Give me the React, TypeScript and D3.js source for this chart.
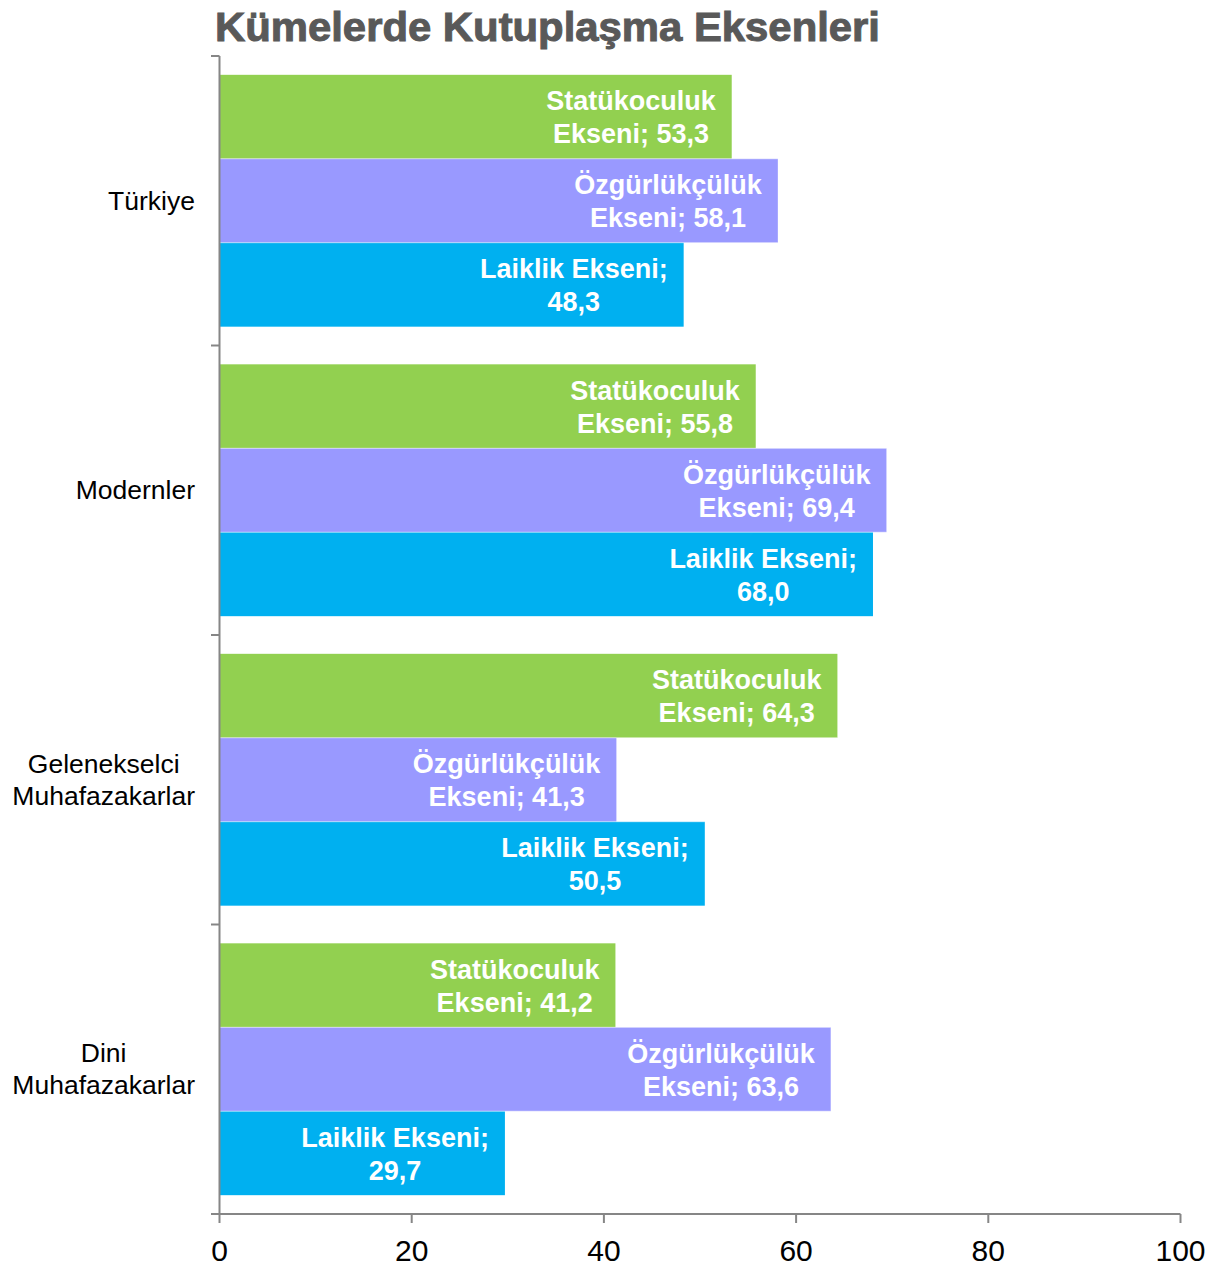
import React, { useEffect, useRef } from "react";
import * as d3 from "d3";

const categories = ["Türkiye", "Modernler", "Gelenekselci\nMuhafazakarlar", "Dini\nMuhafazakarlar"];
const seriesNames = ["Statükoculuk Eksen", "Özgürlükçülük Ekseni", "Laiklik Ekseni"];
const statukoculuk = [53.3, 55.8, 64.3, 41.2];
const ozgurlukculuk = [58.1, 69.4, 41.3, 63.6];
const laiklik = [48.3, 68.0, 50.5, 29.7];
const xTicks = [0, 20, 40, 60, 80, 100];
const labelLines1 = [["Statükoculuk", "Ekseni; "], ["Özgürlükçülük", "Ekseni; "], ["Laiklik Ekseni;", ""]];
const colors = ["#92D050", "#9999FF", "#00B0F0"];
const title = "Kümelerde Kutuplaşma Eksenleri";

const W = 1222, H = 1268;
const left = 219.5, right = 1180.5, top = 56, bottom = 1214;
const FONT = "'Liberation Sans', Arial, sans-serif";

export default function App() {
  const ref = useRef<SVGSVGElement>(null);
  useEffect(() => {
    const svg = d3.select(ref.current!);
    svg.selectAll("*").remove();
    const values = [statukoculuk, ozgurlukculuk, laiklik];
    const x = d3.scaleLinear().domain([0, 100]).range([left, right]);
    const y0 = d3.scaleBand<string>().domain(categories).range([top, bottom]);
    const bw = y0.bandwidth();
    const gap = bw * 0.13;
    const y1 = d3.scaleBand<string>().domain(seriesNames).range([gap / 2, bw - gap / 2]);

    // title
    svg.append("text").attr("x", 215).attr("y", 41).attr("fill", "#595959")
      .attr("font-family", FONT).attr("font-weight", 900)
      .attr("font-size", 41).attr("textLength", 665).attr("lengthAdjust", "spacingAndGlyphs")
      .attr("stroke", "#595959").attr("stroke-width", 1)
      .text(title);

    // bars
    categories.forEach((c, ci) => {
      seriesNames.forEach((s, si) => {
        const v = values[si][ci];
        const yt = y0(c)! + y1(s)!;
        const h = y1.bandwidth();
        svg.append("rect").attr("x", x(0)).attr("y", yt).attr("width", x(v) - x(0)).attr("height", h)
          .attr("fill", colors[si]);
      });
    });
    // separators
    categories.forEach((c, ci) => {
      seriesNames.forEach((s, si) => {
        if (si === 0) return;
        const yt = y0(c)! + y1(s)!;
        const v = Math.max(values[si - 1][ci], values[si][ci]);
        svg.append("line").attr("x1", x(0)).attr("x2", x(v)).attr("y1", yt).attr("y2", yt)
          .attr("stroke", "#ffffff").attr("stroke-opacity", 0.5).attr("stroke-width", 1);
      });
    });

    // labels
    const fmt = (v: number) => v.toFixed(1).replace(".", ",");
    categories.forEach((c, ci) => {
      seriesNames.forEach((s, si) => {
        const v = values[si][ci];
        const yc = y0(c)! + y1(s)! + y1.bandwidth() / 2;
        const lines = [labelLines1[si][0], labelLines1[si][1] + fmt(v)];
        const g = svg.append("g");
        const texts = lines.map((ln, li) =>
          g.append("text").attr("y", yc + (li - 0.5) * 33 + 10)
            .attr("fill", "#ffffff").attr("font-weight", "bold")
            .attr("font-family", FONT)
            .attr("font-size", 27).attr("text-anchor", "middle").text(ln)
        );
        const maxW = d3.max(texts, (t) => (t.node() as SVGTextElement).getComputedTextLength())!;
        const cx = x(v) - 16 - maxW / 2;
        texts.forEach((t) => t.attr("x", cx));
      });
    });

    // y axis
    svg.append("line").attr("x1", left).attr("x2", left).attr("y1", top).attr("y2", bottom)
      .attr("stroke", "#868686").attr("stroke-width", 2);
    const yTickPos = [top, ...categories.map((c) => y0(c)! + bw)];
    yTickPos.forEach((yy) => {
      svg.append("line").attr("x1", 211).attr("x2", left).attr("y1", yy).attr("y2", yy)
        .attr("stroke", "#868686").attr("stroke-width", 2);
    });
    categories.forEach((c) => {
      const lines = c.split("\n");
      const yc = y0(c)! + bw / 2;
      const texts = lines.map((ln, li) =>
        svg.append("text").attr("y", yc + (li - (lines.length - 1) / 2) * 32 + 9)
          .attr("font-family", FONT).attr("font-size", 26.5)
          .attr("fill", "#000").attr("text-anchor", "middle").text(ln)
      );
      const maxW = d3.max(texts, (t) => (t.node() as SVGTextElement).getComputedTextLength())!;
      texts.forEach((t) => t.attr("x", 195 - maxW / 2));
    });

    // x axis
    svg.append("line").attr("x1", left - 8).attr("x2", right).attr("y1", bottom).attr("y2", bottom)
      .attr("stroke", "#868686").attr("stroke-width", 2);
    xTicks.forEach((t) => {
      svg.append("line").attr("x1", x(t)).attr("x2", x(t)).attr("y1", bottom).attr("y2", bottom + 9)
        .attr("stroke", "#868686").attr("stroke-width", 2);
      svg.append("text").attr("x", x(t)).attr("y", 1261).attr("text-anchor", "middle")
        .attr("font-family", FONT).attr("font-size", 30)
        .attr("fill", "#000").text(String(t));
    });
  }, []);
  return (
    <svg ref={ref} width={W} height={H} style={{ position: "absolute", left: 0, top: 0, background: "#fff" }} />
  );
}
